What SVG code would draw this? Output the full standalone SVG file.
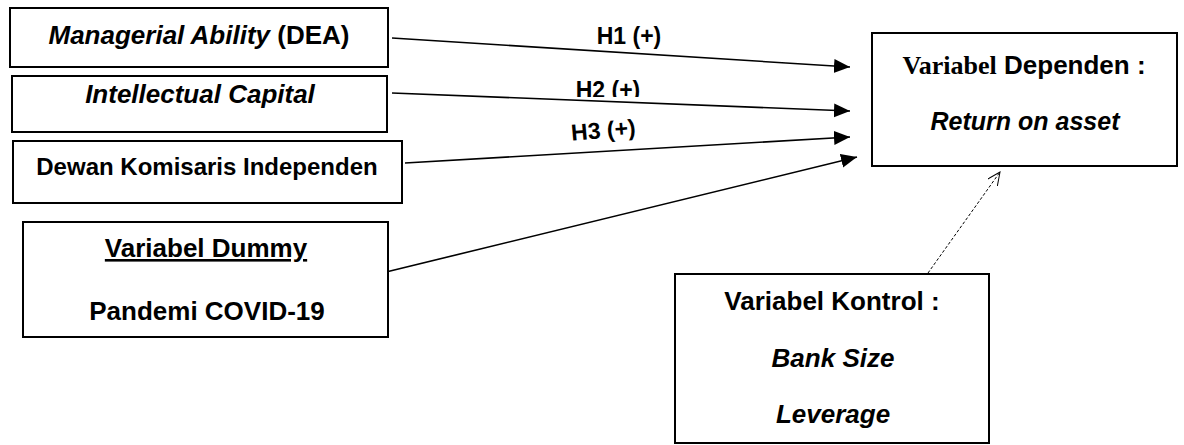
<svg xmlns="http://www.w3.org/2000/svg" width="1184" height="445" viewBox="0 0 1184 445">
<style>
  .box { fill: #fff; stroke: #000; stroke-width: 2; }
  .t { font-family: "Liberation Sans", Arial, sans-serif; font-weight: bold; fill: #000; text-anchor: middle; }
  .i { font-style: italic; }
  .serif { font-family: "Liberation Serif", "Times New Roman", serif; }
  .conn { stroke: #000; stroke-width: 1.6; fill: none; }
  .dash { stroke: #000; stroke-width: 1; stroke-dasharray: 3 2; fill: none; }
</style>
<defs>
  <marker id="ah" markerUnits="userSpaceOnUse" markerWidth="18" markerHeight="16" refX="16" refY="7" orient="auto">
    <path d="M0,0 L16,7 L0,14 z" fill="#000"/>
  </marker>
  <marker id="open" markerUnits="userSpaceOnUse" markerWidth="16" markerHeight="14" refX="13" refY="6" orient="auto">
    <path d="M0,0 L13,6 L0,12" fill="none" stroke="#000" stroke-width="1"/>
  </marker>
  <clipPath id="h2clip"><rect x="560" y="70" width="100" height="27"/></clipPath>
</defs>

<g id="connectors">
  <line class="conn" x1="392" y1="38" x2="850" y2="67" marker-end="url(#ah)"/>
  <line class="conn" x1="392" y1="93" x2="850" y2="111" marker-end="url(#ah)"/>
  <line class="conn" x1="405" y1="163" x2="850" y2="137" marker-end="url(#ah)"/>
  <line class="conn" x1="382" y1="273" x2="857" y2="157" marker-end="url(#ah)"/>
  <line class="dash" x1="928" y1="273" x2="1000" y2="172" marker-end="url(#open)"/>
  <text class="t" x="629" y="44" font-size="23">H1 (+)</text>
  <text class="t" x="608" y="98" font-size="23" clip-path="url(#h2clip)">H2 (+)</text>
  <text class="t" x="604" y="138" font-size="23" transform="rotate(-5 604 138)">H3 (+)</text>
</g>

<g id="node-managerial">
  <rect class="box" x="10" y="8" width="378" height="59"/>
  <text class="t" x="199" y="44" font-size="26"><tspan class="i">Managerial Ability</tspan> (DEA)</text>
</g>

<g id="node-intellectual">
  <rect class="box" x="12" y="76" width="375" height="56"/>
  <text class="t i" x="200" y="103" font-size="26">Intellectual Capital</text>
</g>

<g id="node-dewan">
  <rect class="box" x="13" y="141" width="389" height="62"/>
  <text class="t" x="207" y="175" font-size="24">Dewan Komisaris Independen</text>
</g>

<g id="node-dummy">
  <rect class="box" x="23" y="222" width="365" height="115"/>
  <text class="t" x="206" y="257" font-size="26" text-decoration="underline">Variabel Dummy</text>
  <text class="t" x="207" y="320" font-size="26">Pandemi COVID-19</text>
</g>

<g id="node-dependen">
  <rect class="box" x="872" y="33" width="305" height="133"/>
  <text class="t" x="1024" y="74" font-size="26"><tspan class="serif">Variabel</tspan> Dependen :</text>
  <text class="t i" x="1025" y="130" font-size="25">Return on asset</text>
</g>

<g id="node-kontrol">
  <rect class="box" x="675" y="274" width="314" height="169"/>
  <text class="t" x="832" y="310" font-size="26">Variabel Kontrol :</text>
  <text class="t i" x="833" y="367" font-size="26">Bank Size</text>
  <text class="t i" x="833" y="423" font-size="26">Leverage</text>
</g>
</svg>
